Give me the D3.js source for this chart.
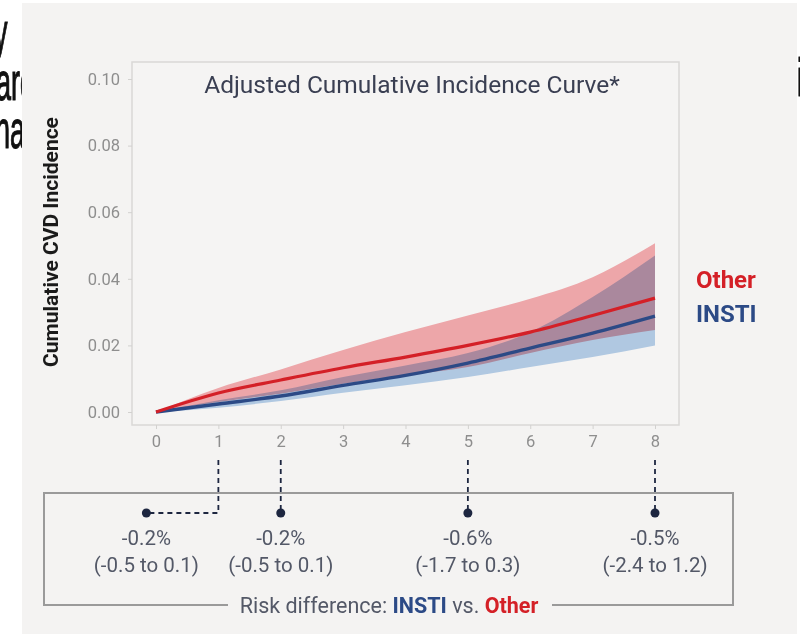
<!DOCTYPE html>
<html>
<head>
<meta charset="utf-8">
<script src="https://cdn.jsdelivr.net/npm/d3@7"></script>
<style>
  body { margin: 0; background: #fff; }
  svg { display: block; }
  .tick text { font-family: Roboto, sans-serif; }
</style>
</head>
<body>
<script>
var years = [0, 1, 2, 3, 4, 5, 6, 7, 8];
var otherEst = [0, 0.0057, 0.0096, 0.0133, 0.0165, 0.0200, 0.0240, 0.0290, 0.0342];
var otherLo  = [0, 0.0030, 0.0055, 0.0085, 0.0110, 0.0135, 0.0177, 0.0216, 0.0246];
var otherHi  = [0, 0.0072, 0.0128, 0.0186, 0.0240, 0.0290, 0.0340, 0.0405, 0.0507];
var instiEst = [0, 0.0024, 0.0048, 0.0080, 0.0110, 0.0147, 0.0192, 0.0237, 0.0288];
var instiLo  = [0, 0.0013, 0.0033, 0.0058, 0.0080, 0.0105, 0.0135, 0.0165, 0.0200];
var instiHi  = [0, 0.0035, 0.0065, 0.0105, 0.0140, 0.0177, 0.0240, 0.0345, 0.0470];
var yTicks = [0, 0.02, 0.04, 0.06, 0.08, 0.10];

var rdYears = [1, 2, 5, 8];
var rdEst = ['-0.2%', '-0.2%', '-0.6%', '-0.5%'];
var rdCI = ['(-0.5 to 0.1)', '(-0.5 to 0.1)', '(-1.7 to 0.3)', '(-2.4 to 1.2)'];

var width = 800, height = 634;
var red = '#d42027', blue = '#2c4a86', navy = '#1d2640', grey = '#535867';

var svg = d3.select('body').append('svg')
  .attr('width', width)
  .attr('height', height);

// cropped slide text behind the panel
var bg = svg.append('g')
  .attr('font-family', '"Liberation Sans", sans-serif')
  .attr('font-size', 54)
  .attr('fill', '#111');
[['y', -6, 50], ['aro', -4, 100], ['ha', -5, 148], ['i', 797, 96]].forEach(function(s) {
  bg.append('text')
    .attr('transform', 'translate(' + s[1] + ',' + s[2] + ') scale(0.5,1)')
    .attr('stroke', '#111')
    .attr('stroke-width', 1.2)
    .text(s[0]);
});

svg.append('rect')
  .attr('x', 22).attr('y', 3)
  .attr('width', 775).attr('height', height)
  .attr('fill', '#f4f3f2');

var x = d3.scaleLinear().domain([0, 8]).range([156, 655]);
var y = d3.scaleLinear().domain([0, 0.1]).range([412, 79]);

var frame = { left: 132, top: 62, right: 679, bottom: 425 };

// frame
svg.append('rect')
  .attr('x', frame.left).attr('y', frame.top)
  .attr('width', frame.right - frame.left)
  .attr('height', frame.bottom - frame.top)
  .attr('fill', '#f5f4f3')
  .attr('stroke', '#d9d8d6')
  .attr('stroke-width', 1.5);

// axes
var yAxis = d3.axisLeft(y).tickValues(yTicks).tickFormat(d3.format('.2f')).tickSize(4).tickPadding(8);
var gy = svg.append('g').attr('transform', 'translate(' + frame.left + ',0)').call(yAxis);
var xAxis = d3.axisBottom(x).tickValues(years).tickSize(4).tickPadding(6);
var gx = svg.append('g').attr('transform', 'translate(0,' + frame.bottom + ')').call(xAxis);
[gx, gy].forEach(function(g) {
  g.select('.domain').remove();
  g.selectAll('.tick line').attr('stroke', '#d2d1cf');
  g.selectAll('.tick text').attr('fill', '#8e8e8e').attr('font-size', 16.5);
});

// bands
var rows = years.map(function(t, i) {
  return { t: t, oe: otherEst[i], ol: otherLo[i], oh: otherHi[i], ie: instiEst[i], il: instiLo[i], ih: instiHi[i] };
});
var curve = d3.curveMonotoneX;

svg.append('path')
  .datum(rows)
  .attr('fill', '#b0c8e1')
  .attr('d', d3.area().curve(curve).x(function(d) { return x(d.t); })
    .y0(function(d) { return y(d.il); }).y1(function(d) { return y(d.ih); }));

svg.append('path')
  .datum(rows)
  .attr('fill', '#f7aeb2')
  .style('mix-blend-mode', 'multiply')
  .attr('d', d3.area().curve(curve).x(function(d) { return x(d.t); })
    .y0(function(d) { return y(d.ol); }).y1(function(d) { return y(d.oh); }));

svg.append('path')
  .datum(rows)
  .attr('fill', 'none')
  .attr('stroke', blue)
  .attr('stroke-width', 3.4)
  .attr('d', d3.line().curve(curve).x(function(d) { return x(d.t); }).y(function(d) { return y(d.ie); }));

svg.append('path')
  .datum(rows)
  .attr('fill', 'none')
  .attr('stroke', red)
  .attr('stroke-width', 3.2)
  .attr('d', d3.line().curve(curve).x(function(d) { return x(d.t); }).y(function(d) { return y(d.oe); }));

// title
svg.append('text')
  .attr('x', 412).attr('y', 93)
  .attr('text-anchor', 'middle')
  .attr('font-family', 'Roboto, sans-serif')
  .attr('font-size', 24.5)
  .attr('fill', '#3a3f52')
  .text('Adjusted Cumulative Incidence Curve*');

// y title
svg.append('text')
  .attr('transform', 'translate(58,242) rotate(-90)')
  .attr('text-anchor', 'middle')
  .attr('font-family', 'Roboto, sans-serif')
  .attr('font-weight', 'bold')
  .attr('font-size', 21)
  .attr('fill', '#1a1a1a')
  .text('Cumulative CVD Incidence');

// legend
svg.append('text')
  .attr('x', 696).attr('y', 288)
  .attr('font-family', 'Roboto, sans-serif')
  .attr('font-weight', 'bold').attr('font-size', 24)
  .attr('fill', red).text('Other');
svg.append('text')
  .attr('x', 696).attr('y', 322)
  .attr('font-family', 'Roboto, sans-serif')
  .attr('font-weight', 'bold').attr('font-size', 24)
  .attr('fill', blue).text('INSTI');

// risk difference box
var box = { left: 44, top: 493, right: 733, bottom: 605, gapL: 228, gapR: 552 };
svg.append('path')
  .attr('fill', 'none')
  .attr('stroke', '#9a9a9a')
  .attr('stroke-width', 2)
  .attr('d', 'M' + box.gapL + ',' + box.bottom + 'H' + box.left + 'V' + box.top + 'H' + box.right +
    'V' + box.bottom + 'H' + box.gapR);

var label = svg.append('text')
  .attr('x', 389).attr('y', 613)
  .attr('text-anchor', 'middle')
  .attr('font-family', 'Roboto, sans-serif')
  .attr('font-size', 21.5)
  .attr('fill', grey);
label.append('tspan').text('Risk difference: ');
label.append('tspan').attr('font-weight', 'bold').attr('fill', blue).text('INSTI');
label.append('tspan').text(' vs. ');
label.append('tspan').attr('font-weight', 'bold').attr('fill', red).text('Other');

var dotY = 513;
rdYears.forEach(function(t, i) {
  var tx = x(t);
  var dx = i === 0 ? tx - 72 : tx;
  svg.append('path')
    .attr('fill', 'none')
    .attr('stroke', navy)
    .attr('stroke-width', 1.8)
    .attr('stroke-dasharray', '5,4')
    .attr('d', 'M' + tx + ',460V' + dotY + (i === 0 ? 'H' + dx : ''));
  svg.append('circle')
    .attr('cx', dx).attr('cy', dotY).attr('r', 4.5)
    .attr('fill', navy);
  svg.append('text')
    .attr('x', dx).attr('y', 545)
    .attr('text-anchor', 'middle')
    .attr('font-family', 'Roboto, sans-serif')
    .attr('font-size', 20.5).attr('fill', grey)
    .text(rdEst[i]);
  svg.append('text')
    .attr('x', dx).attr('y', 572)
    .attr('text-anchor', 'middle')
    .attr('font-family', 'Roboto, sans-serif')
    .attr('font-size', 20.5).attr('fill', grey)
    .text(rdCI[i]);
});
</script>
</body>
</html>
